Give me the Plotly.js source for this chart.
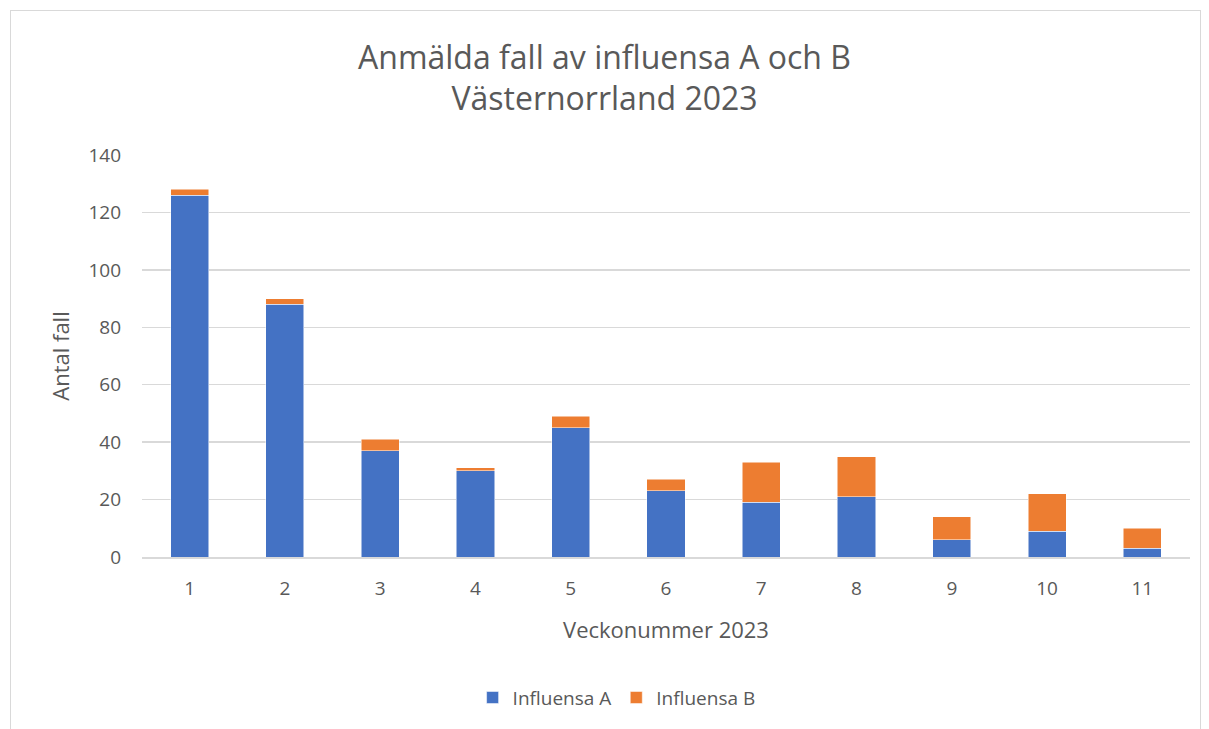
<!DOCTYPE html>
<html>
<head>
<meta charset="utf-8">
<script src="https://cdn.plot.ly/plotly-3.0.1.min.js"></script>
<style>
  html, body { margin: 0; padding: 0; background: #ffffff; }
  #frame { position: absolute; left: 10px; top: 10px; width: 1191px; height: 740px; border: 1px solid #d9d9d9; box-sizing: border-box; }
  #chart { position: absolute; left: 0; top: 0; width: 1209px; height: 729px; }
</style>
</head>
<body>
<div id="frame"></div>
<div id="chart"></div>
<script>
const weeks = ["1","2","3","4","5","6","7","8","9","10","11"];
const influensaA = [126, 88, 37, 30, 45, 23, 19, 21, 6, 9, 3];
const influensaB = [2, 2, 4, 1, 4, 4, 14, 14, 8, 13, 7];
const yTicks = [0, 20, 40, 60, 80, 100, 120, 140];

const font = "Open Sans, Noto Sans, sans-serif";
const textColor = "#595959";

const traces = [
  { type: "bar", name: "Influensa A", x: weeks, y: influensaA,
    marker: { color: "#4472c4", line: { color: "#ffffff", width: 0.5 } } },
  { type: "bar", name: "Influensa B", x: weeks, y: influensaB,
    marker: { color: "#ed7d31", line: { color: "#ffffff", width: 0.5 } } }
];

const layout = {
  width: 1209, height: 729,
  margin: { l: 142, r: 19, t: 155, b: 172 },
  paper_bgcolor: "rgba(0,0,0,0)",
  plot_bgcolor: "rgba(0,0,0,0)",
  barmode: "stack",
  bargap: 0.6,
  font: { family: font, color: textColor, size: 19 },
  title: {
    text: "Anmälda fall av influensa A och B<br>Västernorrland 2023",
    font: { family: font, size: 32, color: textColor },
    x: 0.5, xref: "container", xanchor: "center",
    y: 0.906, yref: "container", yanchor: "top"
  },
  xaxis: {
    type: "category",
    title: { text: "Veckonummer 2023", font: { size: 22, color: textColor }, standoff: 22 },
    tickfont: { size: 19, color: textColor },
    showgrid: false, zeroline: false,
    showline: true, linecolor: "#d9d9d9", linewidth: 1.5,
    ticks: "", ticklen: 0, ticklabelstandoff: 14
  },
  yaxis: {
    range: [0, 140],
    tickvals: yTicks,
    ticktext: yTicks.map(String),
    title: { text: "Antal fall", font: { size: 22, color: textColor }, standoff: 12 },
    tickfont: { size: 19, color: textColor },
    showgrid: true, gridcolor: "#d9d9d9", gridwidth: 1.5,
    zeroline: false, showline: false, ticks: "", ticklabelstandoff: 20
  },
  legend: {
    orientation: "h",
    x: 0.51, xref: "container", xanchor: "center",
    y: 0.043, yref: "container", yanchor: "middle",
    font: { size: 19, color: textColor },
    traceorder: "normal",
    itemwidth: 30
  },
  showlegend: true
};

Plotly.newPlot("chart", traces, layout, { displayModeBar: false, staticPlot: true });
</script>
</body>
</html>
